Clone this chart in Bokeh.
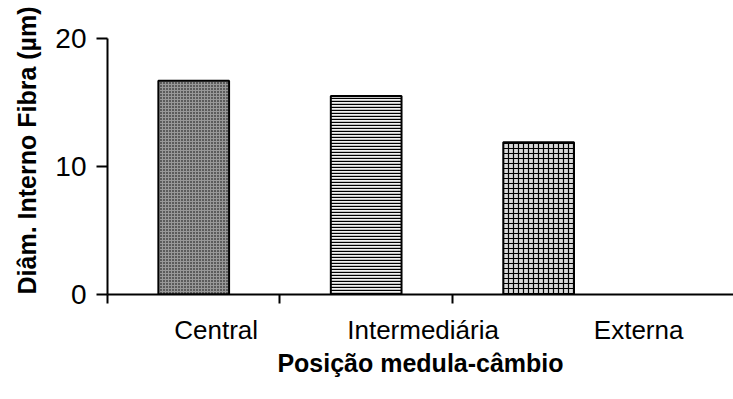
from bokeh.plotting import figure
from bokeh.models import FixedTicker, LinearAxis, Range1d, ColumnDataSource, Title
from bokeh.embed import file_html
from bokeh.resources import INLINE

# ---- data ----
categories = ["Central", "Intermediária", "Externa"]
cat_index = [1, 2, 3]
diam_interno = [16.7, 15.5, 11.9]
y_ticks = [0, 10, 20]

# ---- layout / style constants ----
LABEL_X = [1.13, 2.33, 3.58]          # where the category labels sit (offset as in the original)
BOUNDARY_TICKS = [0.5, 1.5, 2.5]
fills = ["#989898", "#f0f0f0", "#d8d8d8"]
hatches = ["dot", "horizontal_line", "cross"]
hatch_colors = ["#000000", "#000000", "#000000"]
hatch_scales = [3, 3, 5]
hatch_weights = [1.1, 1.4, 1.2]

FONT = "Liberation Sans"

src = ColumnDataSource(dict(x=cat_index, top=diam_interno, fill=fills, hp=hatches,
                            hc=hatch_colors, hs=hatch_scales, hw=hatch_weights))

p = figure(width=733, height=399, output_backend="svg", toolbar_location=None,
           x_range=Range1d(0.5, 4.13), y_range=Range1d(0, 20),
           x_axis_location=None, min_border_left=107, min_border_right=0,
           min_border_top=38, min_border_bottom=105)
p.outline_line_color = None
p.xgrid.visible = False
p.ygrid.visible = False
p.background_fill_color = "white"
p.border_fill_color = "white"

p.vbar(x="x", top="top", width=0.41, bottom=0, source=src,
       fill_color="fill", hatch_pattern="hp", hatch_color="hc",
       hatch_scale="hs", hatch_weight="hw",
       line_color="black", line_width=2)

# y axis
ya = p.yaxis[0]
ya.ticker = FixedTicker(ticks=y_ticks)
ya.minor_tick_line_color = None
ya.major_tick_out = 11
ya.major_tick_in = 0
ya.major_tick_line_width = 2
ya.axis_line_width = 2
ya.axis_line_color = "black"
ya.major_tick_line_color = "black"
ya.major_label_text_font = FONT
ya.major_label_text_font_size = "28px"
ya.major_label_text_color = "black"
ya.major_label_standoff = 10

# y title (starts at the bottom of the plot area, as in the original)
yt = Title(text="Diâm. Interno Fibra (µm)", align="left", offset=0, standoff=21,
           vertical_align="middle",
           text_font=FONT, text_font_style="bold", text_font_size="25px",
           text_color="black")
p.add_layout(yt, "left")

# x axis: line + boundary ticks
xa = LinearAxis(ticker=FixedTicker(ticks=BOUNDARY_TICKS))
xa.major_label_overrides = {t: "" for t in BOUNDARY_TICKS}
xa.major_label_text_font_size = "1px"
xa.major_label_standoff = 0
xa.minor_tick_line_color = None
xa.major_tick_out = 9
xa.major_tick_in = 0
xa.major_tick_line_width = 2
xa.axis_line_width = 2
xa.axis_line_color = "black"
p.add_layout(xa, "below")

# x axis: category labels + title
xl = LinearAxis(ticker=FixedTicker(ticks=LABEL_X))
xl.major_label_overrides = {lx: c for lx, c in zip(LABEL_X, categories)}
xl.axis_line_color = None
xl.major_tick_line_color = None
xl.minor_tick_line_color = None
xl.major_tick_out = 0
xl.major_label_standoff = 11
xl.major_label_text_font = FONT
xl.major_label_text_font_size = "26px"
xl.major_label_text_color = "black"
xl.axis_label = "Posição medula-câmbio"
xl.axis_label_text_font = FONT
xl.axis_label_text_font_style = "bold"
xl.axis_label_text_font_size = "25px"
xl.axis_label_text_color = "black"
xl.axis_label_standoff = 1
p.add_layout(xl, "below")

open("out.html", "w").write(file_html(p, INLINE))
